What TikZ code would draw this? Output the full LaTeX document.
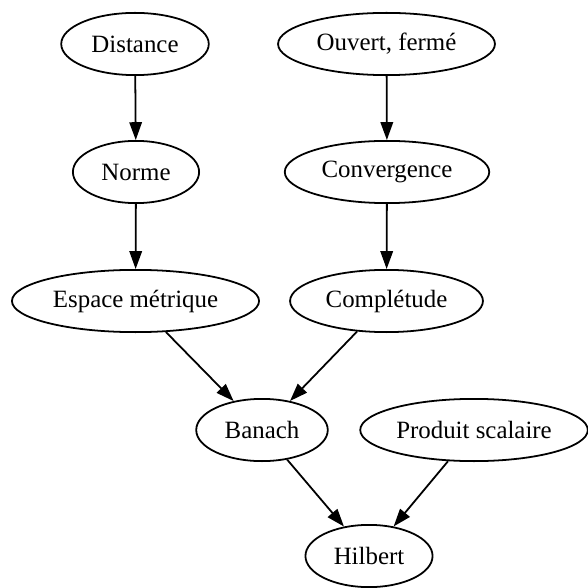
\documentclass[tikz,border=0pt]{standalone}
\usepackage{fontspec}
\setmainfont{Liberation Serif}
\usetikzlibrary{shapes.geometric,arrows.meta}

\tikzstyle{notion}=[ellipse, draw, line width=1pt, inner sep=0pt, minimum height=35pt, font=\fontsize{14pt}{16pt}\selectfont]
\tikzstyle{implies}=[line width=1pt, -{Triangle[length=10pt, width=7pt]}]

\begin{document}
\begin{tikzpicture}[x=0.5625pt, y=-0.5625pt]
      \useasboundingbox (0, 0) rectangle (588, 587);
      \node (distance) at (135, 44)
            [notion, minimum width=83pt] {Distance};
      \node (ouvert) at (386.5, 44)
            [notion, minimum width=122pt] {Ouvert, fermé};
      \node (norme) at (136, 172)
            [notion, minimum width=71pt] {Norme};
      \node (convergence) at (387, 172)
            [notion, minimum width=115pt] {Convergence};
      \node (metrique) at (135.5, 301)
            [notion, minimum width=139pt] {Espace métrique};
      \node (completude) at (386.5, 301)
            [notion, minimum width=108.5pt] {Complétude};
      \node (banach) at (262, 430)
            [notion, minimum width=74pt] {Banach};
      \node (scalaire) at (474, 430)
            [notion, minimum width=128pt] {Produit scalaire};
      \node (hilbert) at (369, 556)
            [notion, minimum width=71.5pt] {Hilbert};
      \draw[implies] (distance) -- (norme);
      \draw[implies] (norme) -- (metrique);
      \draw[implies] (ouvert) -- (convergence);
      \draw[implies] (convergence) -- (completude);
      \draw[implies] (metrique) -- (banach);
      \draw[implies] (completude) -- (banach);
      \draw[implies] (banach) -- (hilbert);
      \draw[implies] (scalaire) -- (hilbert);
    \end{tikzpicture}
\end{document}
